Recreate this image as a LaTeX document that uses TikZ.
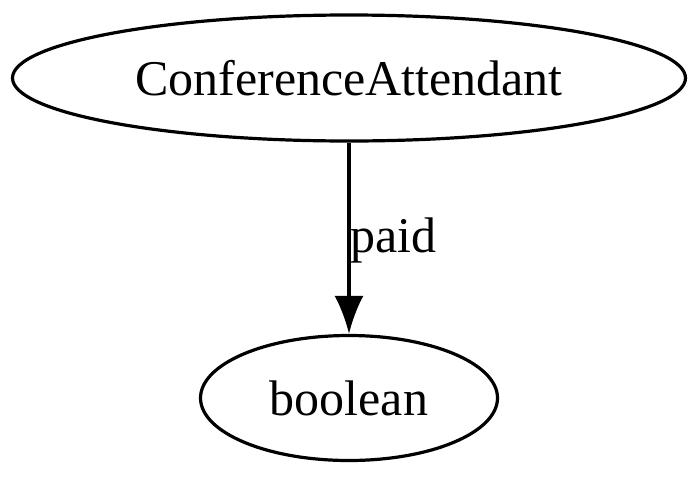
\documentclass[tikz,border=0pt]{standalone}
\usepackage{fontspec}
\setmainfont{Liberation Serif}
\usetikzlibrary{shapes.geometric,arrows.meta}

\begin{document}
\begin{tikzpicture}[x=1pt,y=-1pt,
    class/.style={draw=black, line width=3.2pt, ellipse, inner sep=0pt,
      font=\fontsize{50}{60}\selectfont},
    rel/.style={draw=black, line width=3.2pt, -{Latex[length=38pt,width=29pt]}}]
        \useasboundingbox (0,0) rectangle (700,477);

        \node[class, minimum width=673pt, minimum height=126pt] (attendant) at (349,78) {ConferenceAttendant};
        \node[class, minimum width=297pt, minimum height=125pt] (boolean) at (349,398) {boolean};

        \draw[rel] (attendant) -- (boolean)
        node[midway, anchor=base west, inner sep=0pt, yshift=-14pt, font=\fontsize{50}{60}\selectfont] (paid) {paid};
    \end{tikzpicture}
\end{document}
